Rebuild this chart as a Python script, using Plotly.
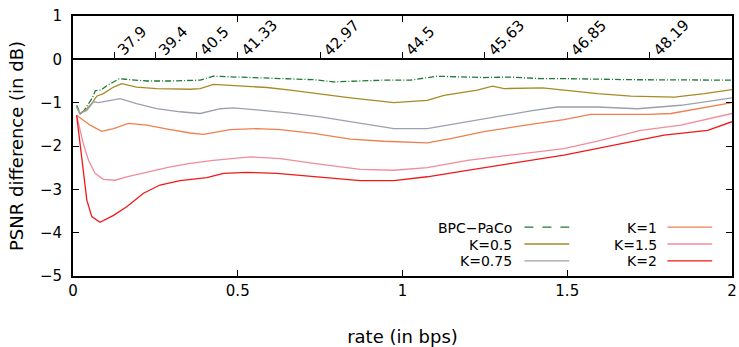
import plotly.graph_objects as go

# ---- data ----
bpc_x = [0.011, 0.022, 0.034, 0.045, 0.058, 0.068, 0.085, 0.100, 0.115, 0.140, 0.160, 0.224, 0.295, 0.386, 0.426, 0.528, 0.629, 0.730, 0.791, 0.872, 0.943, 1.024, 1.105, 1.247, 1.328, 1.419, 1.490, 1.693, 1.845, 2.000]
bpc_y = [-1.06, -1.25, -1.18, -1.05, -0.90, -0.72, -0.71, -0.62, -0.56, -0.45, -0.46, -0.50, -0.50, -0.48, -0.39, -0.42, -0.445, -0.47, -0.52, -0.50, -0.48, -0.48, -0.39, -0.42, -0.41, -0.445, -0.445, -0.47, -0.48, -0.48]

k05_x = [0.011, 0.022, 0.042, 0.057, 0.072, 0.092, 0.123, 0.148, 0.193, 0.254, 0.356, 0.386, 0.426, 0.528, 0.589, 0.660, 0.730, 0.842, 0.974, 1.075, 1.126, 1.227, 1.273, 1.308, 1.425, 1.490, 1.592, 1.693, 1.825, 1.916, 2.000]
k05_y = [-1.10, -1.26, -1.14, -1.02, -0.85, -0.79, -0.64, -0.56, -0.64, -0.675, -0.69, -0.675, -0.58, -0.62, -0.65, -0.71, -0.78, -0.89, -1.00, -0.945, -0.83, -0.71, -0.62, -0.675, -0.66, -0.71, -0.79, -0.85, -0.87, -0.79, -0.70]

k075_x = [0.011, 0.020, 0.042, 0.062, 0.077, 0.092, 0.143, 0.193, 0.254, 0.325, 0.386, 0.447, 0.487, 0.548, 0.660, 0.751, 0.842, 0.974, 1.075, 1.197, 1.288, 1.389, 1.470, 1.592, 1.713, 1.845, 2.000]
k075_y = [-1.10, -1.25, -1.18, -0.98, -1.00, -0.98, -0.905, -1.02, -1.14, -1.21, -1.25, -1.14, -1.12, -1.16, -1.24, -1.33, -1.44, -1.60, -1.60, -1.44, -1.31, -1.19, -1.10, -1.10, -1.14, -1.06, -0.89]

k1_x = [0.011, 0.052, 0.087, 0.123, 0.168, 0.224, 0.295, 0.356, 0.396, 0.477, 0.558, 0.629, 0.730, 0.842, 0.943, 1.075, 1.146, 1.247, 1.389, 1.490, 1.571, 1.744, 1.815, 2.000]
k1_y = [-1.29, -1.52, -1.66, -1.60, -1.48, -1.52, -1.62, -1.70, -1.73, -1.62, -1.60, -1.62, -1.71, -1.84, -1.89, -1.93, -1.83, -1.67, -1.50, -1.39, -1.27, -1.27, -1.25, -1.00]

k15_x = [0.011, 0.031, 0.047, 0.067, 0.092, 0.128, 0.163, 0.224, 0.295, 0.356, 0.426, 0.538, 0.629, 0.730, 0.872, 0.974, 1.075, 1.197, 1.288, 1.419, 1.490, 1.592, 1.723, 1.845, 2.000]
k15_y = [-1.29, -1.94, -2.33, -2.63, -2.77, -2.79, -2.71, -2.60, -2.48, -2.40, -2.33, -2.25, -2.29, -2.40, -2.54, -2.56, -2.50, -2.33, -2.25, -2.12, -2.06, -1.89, -1.64, -1.52, -1.25]

k2_x = [0.011, 0.021, 0.031, 0.042, 0.057, 0.082, 0.123, 0.163, 0.214, 0.264, 0.325, 0.406, 0.457, 0.528, 0.619, 0.730, 0.872, 0.974, 1.075, 1.197, 1.298, 1.419, 1.490, 1.642, 1.794, 1.926, 2.000]
k2_y = [-1.29, -1.94, -2.63, -3.25, -3.63, -3.76, -3.60, -3.40, -3.09, -2.90, -2.80, -2.73, -2.63, -2.61, -2.63, -2.71, -2.80, -2.80, -2.71, -2.56, -2.44, -2.31, -2.21, -1.98, -1.75, -1.64, -1.44]

series_names = ["BPC\u2212PaCo", "K=0.5", "K=0.75", "K=1", "K=1.5", "K=2"]
series_x = [bpc_x, k05_x, k075_x, k1_x, k15_x, k2_x]
series_y = [bpc_y, k05_y, k075_y, k1_y, k15_y, k2_y]

# top (PSNR) axis, drawn on the y = 0 line
top_tick_pos = [0.125, 0.25, 0.375, 0.5, 0.75, 1.0, 1.25, 1.5, 1.75]
top_tick_labels = ["37.9", "39.4", "40.5", "41.33", "42.97", "44.5", "45.63", "46.85", "48.19"]
top_axis_y = 0

x_ticks = [0, 0.5, 1, 1.5, 2]
x_tick_labels = ["0", "0.5", "1", "1.5", "2"]
y_ticks = [1, 0, -1, -2, -3, -4, -5]
y_tick_labels = ["1", "0", "\u22121", "\u22122", "\u22123", "\u22124", "\u22125"]

# ---- styles ----
colors = ["#1e7a35", "#a88a22", "#9aa0ad", "#ee7f50", "#f08c9c", "#f01818"]
dashes = ["6px,2px,1px,2px", "solid", "solid", "solid", "solid", "solid"]
FONT = "DejaVu Sans"

fig = go.Figure()
for name, xs, ys, c, d in zip(series_names, series_x, series_y, colors, dashes):
    fig.add_trace(go.Scatter(x=xs, y=ys, mode="lines", name=name,
                             line=dict(color=c, width=1.3, dash=d),
                             showlegend=False))

# invisible trace to activate the top axis
fig.add_trace(go.Scatter(x=[0, 2], y=[0, 0], xaxis="x2", mode="lines",
                         line=dict(width=0), showlegend=False, hoverinfo="skip"))

fig.update_layout(
    width=739, height=347,
    margin=dict(l=73, r=7, t=16, b=71),
    paper_bgcolor="white", plot_bgcolor="white",
    font=dict(family=FONT, size=15, color="black"),
    showlegend=False,
    xaxis=dict(range=[0, 2], tickvals=x_ticks, ticktext=x_tick_labels,
               showgrid=False, zeroline=False, showline=True, linecolor="black",
               linewidth=2, mirror="ticks", ticks="inside", ticklen=6,
               tickcolor="black", tickwidth=1, automargin=False,
               title=dict(text="rate (in bps)", standoff=34)),
    xaxis2=dict(range=[0, 2], overlaying="x", anchor="free", position=5/6,
                side="top", tickvals=top_tick_pos, showticklabels=False,
                showgrid=False, zeroline=False, showline=True, automargin=False,
                linecolor="black", linewidth=2, ticks="outside", ticklen=6,
                tickcolor="black", tickwidth=1),
    yaxis=dict(range=[-5, 1], tickvals=y_ticks, ticktext=y_tick_labels,
               showgrid=False, zeroline=False, showline=True, linecolor="black",
               linewidth=2, mirror="ticks", ticks="inside", ticklen=6,
               tickcolor="black", tickwidth=1, ticklabelstandoff=6,
               automargin=False,
               title=dict(text="PSNR difference (in dB)", standoff=12)),
)

# rotated PSNR labels starting at each tick of the y = 0 line
for pos, lab in zip(top_tick_pos, top_tick_labels):
    fig.add_annotation(x=pos, y=top_axis_y, xref="x", yref="y", text=lab,
                       showarrow=False, textangle=-45, xanchor="left",
                       yanchor="bottom", xshift=-3, yshift=-3,
                       font=dict(family=FONT, size=15, color="black"))

# gnuplot-style legend (text right-aligned, sample line at the right)
legend_cols = [(0.668, 0.685, 0.753), (0.887, 0.902, 0.970)]
legend_rows = [0.188, 0.123, 0.058]
for i, (name, c) in enumerate(zip(series_names, colors)):
    tx, lx0, lx1 = legend_cols[i // 3]
    ty = legend_rows[i % 3]
    fig.add_annotation(x=tx, y=ty, xref="paper", yref="paper", text=name,
                       showarrow=False, xanchor="right", yanchor="middle",
                       height=15, valign="middle", borderpad=0,
                       font=dict(family=FONT, size=14, color="black"))
    fig.add_shape(type="line", xref="paper", yref="paper", x0=lx0, x1=lx1,
                  y0=ty, y1=ty,
                  line=dict(color=c, width=1.3, dash=("dash" if i == 0 else "solid")))

fig.write_html("out.html")
